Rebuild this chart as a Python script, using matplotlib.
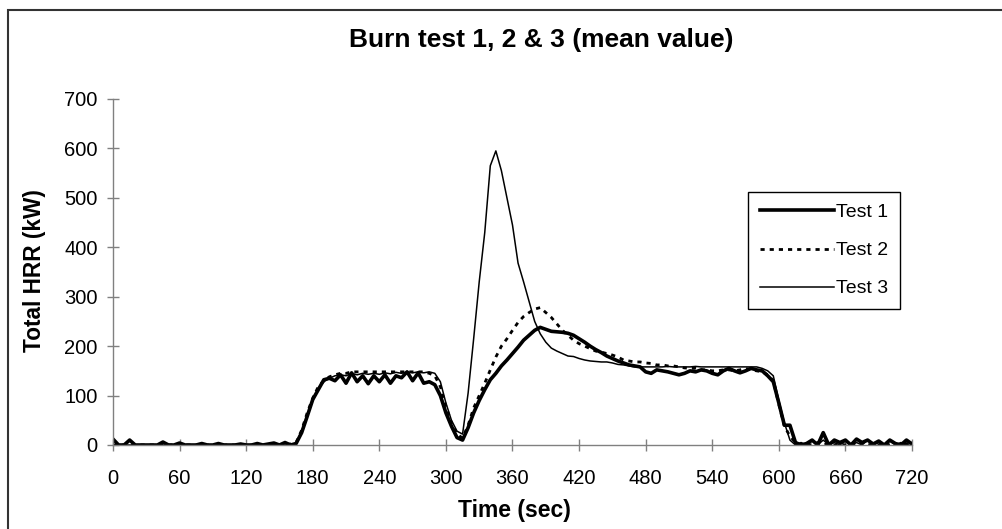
import matplotlib
matplotlib.use("Agg")
import matplotlib.pyplot as plt
from matplotlib.patches import Rectangle
import numpy as np

plt.rcParams['font.family'] = ['Liberation Sans', 'DejaVu Sans']

# time axis (s), 5 s sampling
time_s = list(range(0, 721, 5))

test1 = [
    12, 0, 0, 10, 0, 0, 0, 0, 0, 6, 0, 0,
    4, 0, 0, 0, 3, 0, 0, 3, 0, 0, 0, 2,
    0, 0, 3, 0, 2, 4, 0, 5, 0, 3, 25, 58,
    92, 112, 132, 135, 130, 142, 125, 146, 128, 140, 124, 140,
    128, 142, 125, 140, 136, 148, 130, 146, 125, 128, 122, 100,
    65, 38, 15, 10, 35, 65, 90, 112, 132, 145, 160, 172,
    185, 198, 212, 222, 232, 238, 234, 230, 229, 228, 226, 222,
    215, 208, 200, 193, 187, 180, 175, 170, 166, 162, 160, 158,
    148, 145, 152, 150, 148, 145, 142, 145, 150, 148, 152, 150,
    145, 142, 150, 155, 150, 146, 150, 155, 152, 150, 140, 128,
    85, 40, 40, 5, 0, 3, 10, 0, 25, 0, 10, 5,
    10, 0, 12, 5, 10, 2, 8, 0, 10, 3, 0, 10,
    2,
]

test2 = [
    0, 0, 0, 0, 0, 0, 0, 0, 0, 0, 0, 0,
    0, 0, 0, 0, 0, 0, 0, 0, 0, 0, 0, 0,
    0, 0, 0, 0, 0, 0, 0, 0, 2, 5, 30, 65,
    95, 118, 130, 138, 142, 145, 145, 148, 148, 148, 148, 148,
    148, 148, 148, 148, 148, 148, 148, 148, 148, 145, 140, 118,
    78, 45, 22, 14, 40, 75, 100, 125, 152, 178, 200, 215,
    232, 248, 260, 268, 275, 278, 268, 258, 245, 232, 222, 212,
    205, 200, 195, 190, 188, 185, 182, 178, 172, 170, 168, 168,
    166, 165, 162, 162, 160, 160, 158, 156, 155, 155, 152, 152,
    150, 150, 152, 152, 150, 152, 155, 152, 150, 148, 142, 130,
    82, 38, 18, 5, 0, 2, 0, 5, 0, 3, 0, 2,
    0, 3, 0, 5, 0, 2, 0, 4, 0, 2, 0, 3,
    0,
]

test3 = [
    0, 0, 0, 0, 0, 0, 0, 0, 0, 0, 0, 0,
    0, 0, 0, 0, 0, 0, 0, 0, 0, 0, 0, 0,
    0, 0, 0, 0, 0, 0, 0, 0, 0, 4, 28, 60,
    90, 115, 128, 135, 140, 142, 140, 145, 142, 145, 143, 145,
    143, 146, 144, 147, 145, 148, 146, 148, 146, 148, 145, 128,
    85, 50, 28, 22, 105, 215, 330, 430, 565, 595, 555, 500,
    445, 368, 330, 290, 250, 225, 208, 196, 190, 185, 180, 179,
    175, 172, 170, 169, 168, 168, 166, 163, 162, 160, 158, 158,
    158, 158, 158, 158, 159, 158, 158, 158, 158, 159, 158, 158,
    158, 158, 158, 158, 158, 158, 158, 158, 158, 155, 150, 140,
    90, 45, 10, 0, 5, 0, 8, 0, 10, 0, 5, 0,
    8, 0, 5, 0, 10, 0, 5, 0, 8, 0, 5, 0,
    5,
]

series_labels = ["Test 1", "Test 2", "Test 3"]
x_ticks = list(range(0, 721, 60))
y_ticks = list(range(0, 701, 100))

W, H = 1003, 529
fig = plt.figure(figsize=(W / 100, H / 100), dpi=100)
fig.patch.set_facecolor("white")

# outer chart-area frame (left/top visible)
fig.add_artist(Rectangle((8 / W, -0.1), 1.2, (1 - 10 / H) + 0.1,
                         transform=fig.transFigure, fill=False,
                         edgecolor="#333333", linewidth=1.5, clip_on=False))

ax = fig.add_axes([113 / W, 1 - 445 / H, (912 - 113) / W, (445 - 99) / H])

ax.plot(time_s, test1, color="black", lw=2.6, label=series_labels[0],
        solid_joinstyle="round")
ax.plot(time_s, test2, color="black", lw=2.0, linestyle=(0, (1.5, 1.8)),
        label=series_labels[1])
ax.plot(time_s, test3, color="black", lw=1.1, label=series_labels[2])

ax.set_xlim(0, 720)
ax.set_ylim(0, 700)
ax.set_xticks(x_ticks)
ax.set_yticks(y_ticks)
for s in ["top", "right"]:
    ax.spines[s].set_visible(False)
for s in ["left", "bottom"]:
    ax.spines[s].set_color("#808080")
    ax.spines[s].set_linewidth(1.0)
ax.tick_params(axis="both", direction="inout", length=8, width=1,
               color="#808080", labelsize=14.5)
ax.tick_params(axis="x", pad=13)
ax.tick_params(axis="y", pad=7)

fig.text(541 / W, 1 - 40 / H, "Burn test 1, 2 & 3 (mean value)",
         ha="center", va="center", fontsize=19, fontweight="bold")
fig.text(35 / W, 1 - 271 / H, "Total HRR (kW)", ha="center", va="center",
         rotation=90, fontsize=16.3, fontweight="bold")
fig.text(514 / W, 1 - 511 / H, "Time (sec)", ha="center", va="center",
         fontsize=16.5, fontweight="bold")

leg = ax.legend(loc="upper left", bbox_to_anchor=(748 / W, 1 - 192 / H),
                bbox_transform=fig.transFigure, fontsize=14,
                frameon=True, fancybox=False, shadow=False,
                handlelength=3.8, handletextpad=0.15, labelspacing=1.05,
                borderpad=0.6, borderaxespad=0)
leg.get_frame().set_edgecolor("black")
leg.get_frame().set_linewidth(1.0)
leg.get_frame().set_alpha(1.0)

fig.savefig("out.png", dpi=100, facecolor="white")
